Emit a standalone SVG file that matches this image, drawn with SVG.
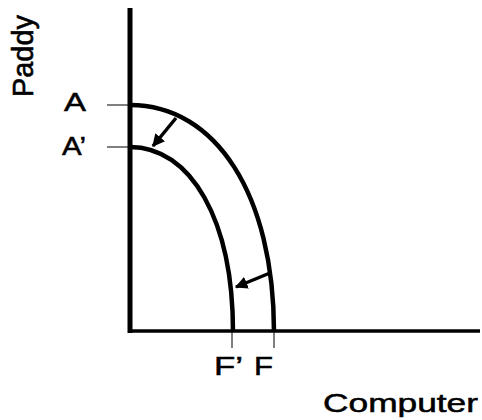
<svg xmlns="http://www.w3.org/2000/svg" width="482" height="420" viewBox="0 0 482 420">
<defs>
<style>
.lbl{font-family:"Liberation Sans",Arial,sans-serif;font-size:25px;fill:#000;stroke:#000;stroke-width:0.5}
.curve{fill:none;stroke:#000;stroke-width:4.5}
.axis{fill:none;stroke:#000}
.tick{stroke:#000;stroke-width:1}
.arr{stroke:#000;stroke-width:3.5;fill:none}
</style>
<marker id="ah" viewBox="0 0 10 10" refX="9" refY="5" markerWidth="3.6" markerHeight="3.6" orient="auto" markerUnits="strokeWidth">
<path d="M0,0 L10,5 L0,10 Z" fill="#000"/>
</marker>
</defs>
<rect width="482" height="420" fill="#fff"/>
<g id="axes">
<line class="axis" x1="130" y1="8" x2="130" y2="333" stroke-width="5"/>
<line class="axis" x1="128" y1="331" x2="480" y2="331" stroke-width="3.5"/>
</g>
<g id="ticks">
<line class="tick" x1="107" y1="105" x2="130" y2="105"/>
<line class="tick" x1="107" y1="147" x2="130" y2="147"/>
<line class="tick" x1="232" y1="331" x2="232" y2="348"/>
<line class="tick" x1="274" y1="331" x2="274" y2="348"/>
</g>
<g id="curve-AF">
<path class="curve" d="M130,105 C216,105 274,195 274,332"/>
</g>
<g id="curve-A2F2">
<path class="curve" d="M130,147 C191,147 233,220 233,332"/>
</g>
<g id="connectors">
<line class="arr" x1="176" y1="118" x2="153" y2="146" marker-end="url(#ah)"/>
<line class="arr" x1="270" y1="273" x2="236" y2="287" marker-end="url(#ah)"/>
</g>
<g id="labels">
<text class="lbl" x="64" y="111" textLength="22" lengthAdjust="spacingAndGlyphs">A</text>
<text class="lbl" x="62" y="155" textLength="24" lengthAdjust="spacingAndGlyphs">A’</text>
<text class="lbl" x="214" y="375" font-size="27" textLength="29" lengthAdjust="spacingAndGlyphs">F’</text>
<text class="lbl" x="254" y="375" font-size="27" textLength="19" lengthAdjust="spacingAndGlyphs">F</text>
<text class="lbl" x="323" y="412" textLength="155" lengthAdjust="spacingAndGlyphs">Computer</text>
<text class="lbl" transform="translate(33,97) scale(1.2,1) rotate(-90)" font-size="28" textLength="82" lengthAdjust="spacingAndGlyphs">Paddy</text>
</g>
</svg>
